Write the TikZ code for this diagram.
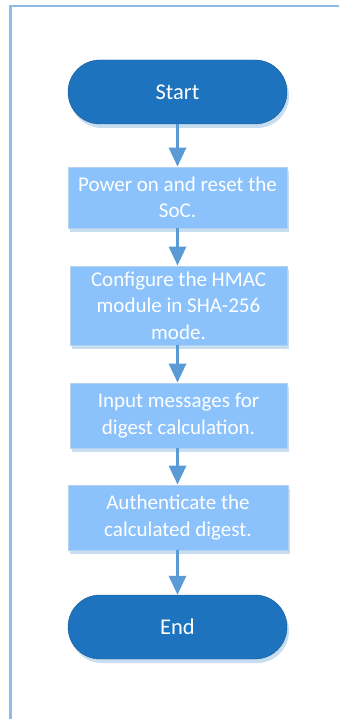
\documentclass[tikz,border=0pt]{standalone}
\usepackage{fontspec}
\setmainfont{Carlito}
\usetikzlibrary{arrows.meta,shadows}
\definecolor{termc}{HTML}{1E73BE}
\definecolor{boxc}{HTML}{8CC2FB}
\definecolor{arrc}{HTML}{5B9BD5}
\definecolor{framec}{HTML}{8CBDE8}
\definecolor{shadc}{HTML}{C9DDF1}
\definecolor{boxline}{HTML}{B5D3F0}
\tikzset{
  term/.style={draw=termc!80!black, line width=0.4pt, fill=termc, rounded corners=31.9pt,
    minimum width=219pt, minimum height=64pt, text=white, font=\fontsize{22.5pt}{26pt}\selectfont,
    drop shadow={shadow xshift=2pt, shadow yshift=-4pt, fill=shadc, opacity=1}},
  procbox/.style={draw=boxline, line width=0.8pt, fill=boxc, minimum width=219pt, text=white,
    align=center, inner sep=2pt, font=\fontsize{21pt}{26.5pt}\selectfont,
    drop shadow={shadow xshift=2pt, shadow yshift=-4pt, fill=shadc, opacity=1}},
  flow/.style={draw=arrc, line width=3pt, -{Triangle[width=17pt,length=19pt]}}
}
\begin{document}
\begin{tikzpicture}[x=1pt,y=-1pt]
\useasboundingbox (0,0) rectangle (339,719);
\fill[white] (0,0) rectangle (339,719);
\draw[framec, line width=2.6pt] (10.3,720) -- (10.3,6) -- (340,6);
\node[term] (start) at (177.5,92) {Start};
\node[procbox, minimum height=61pt] (p1) at (177.5,197.5) {Power on and reset the\\SoC.};
\node[procbox, minimum width=217pt, minimum height=79pt] (p2) at (178.5,305.5) {Configure the HMAC\\module in SHA-256\\mode.};
\node[procbox, minimum width=217pt, minimum height=65pt] (p3) at (178.5,415.5) {Input messages for\\digest calculation.};
\node[procbox, minimum width=220pt, minimum height=65pt] (p4) at (178,517.5) {Authenticate the\\calculated digest.};
\node[term] (end) at (177.5,627) {End};
\draw[flow] (start) -- (p1);
\draw[flow] (p1) -- (p1 |- p2.north);
\draw[flow] (p2.south -| p1) -- (p1 |- p3.north);
\draw[flow] (p3.south -| p1) -- (p1 |- p4.north);
\draw[flow] (p4.south -| p1) -- (end);
\end{tikzpicture}
\end{document}
